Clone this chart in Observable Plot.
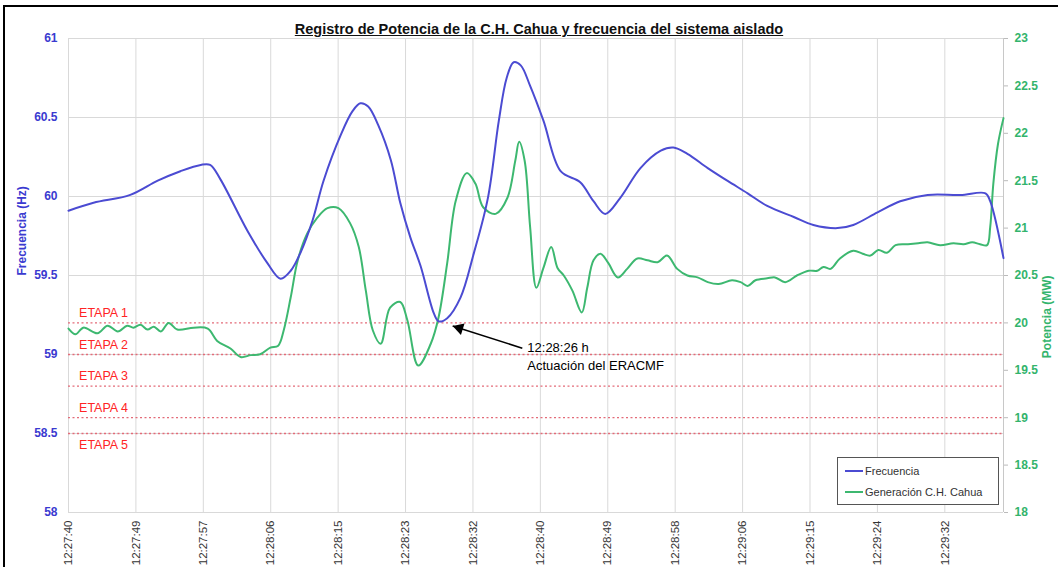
<!DOCTYPE html>
<html>
<head>
<meta charset="utf-8">
<script src="https://cdn.jsdelivr.net/npm/d3@7"></script>
<script src="https://cdn.jsdelivr.net/npm/@observablehq/plot@0.6"></script>
<style>
  body { margin: 0; background: #fff; font-family: "Liberation Sans", Arial, sans-serif; }
  #wrap { position: relative; width: 1058px; height: 567px; overflow: hidden; background: #fff; }
  #frame { position: absolute; left: 3px; top: 5px; width: 1100px; height: 620px; border-left: 2px solid #000; border-top: 2px solid #000; pointer-events: none; }
  #title { position: absolute; left: 539px; top: 21px; transform: translateX(-50%); font-size: 14.5px; font-weight: bold; text-decoration: underline; color: #111; white-space: nowrap; }
  #legend { position: absolute; left: 837px; top: 457px; width: 160px; height: 46px; border: 1px solid #555; background: #fff; font-size: 11px; color: #333; }
  .item { position: absolute; left: 7px; display: flex; align-items: center; }
  .sw { width: 18px; height: 1.5px; margin-right: 2px; }
</style>
</head>
<body>
<div id="wrap">
  <div id="chart"></div>
  <div id="title">Registro de Potencia de la C.H. Cahua y frecuencia del sistema aislado</div>
  <div id="legend">
    <div class="item" style="top:7px"><div class="sw" style="background:#4b4bd2"></div>Frecuencia</div>
    <div class="item" style="top:28px"><div class="sw" style="background:#3db870"></div>Generación C.H. Cahua</div>
  </div>
  <div id="frame"></div>
</div>
<script>
// X tick labels (evenly spaced category labels)
const tickLabels = ["12:27:40","12:27:49","12:27:57","12:28:06","12:28:15","12:28:23","12:28:32","12:28:40","12:28:49","12:28:58","12:29:06","12:29:15","12:29:24","12:29:32"];
const tickStep = 112 / 13; // seconds between category labels
const tickSec = tickLabels.map((_, i) => i * tickStep);

// Frecuencia (Hz): time in seconds since 12:27:40
const freqTime = [0.0,3.2,7.9,11.4,14.3,16.9,18.1,19.4,22.9,25.4,27.1,28.4,29.7,31.2,32.6,34.8,36.3,37.3,38.3,39.6,41.2,42.4,43.7,45.0,46.7,47.3,48.4,50.1,51.8,53.6,55.0,56.0,56.9,57.8,59.0,60.7,62.9,65.4,67.1,68.6,70.5,73.1,75.7,77.3,79.1,81.7,84.2,86.8,89.3,92.7,95.2,98.3,100.3,103.4,106.3,109.8,114.0,117.2,117.8,119.5];
const freqValue = [59.91,59.96,60.01,60.10,60.16,60.20,60.20,60.11,59.78,59.58,59.48,59.53,59.65,59.85,60.10,60.39,60.54,60.59,60.57,60.45,60.23,59.96,59.74,59.56,59.26,59.21,59.23,59.36,59.64,59.99,60.48,60.75,60.85,60.83,60.70,60.48,60.16,60.09,59.97,59.89,59.99,60.18,60.29,60.31,60.27,60.18,60.10,60.02,59.94,59.87,59.82,59.80,59.82,59.90,59.97,60.01,60.01,60.02,59.97,59.61];

// Generación C.H. Cahua (MW)
const powerTime = [0.0,0.9,1.9,3.7,5.0,6.3,7.5,8.3,9.2,10.1,10.9,11.8,12.8,13.9,16.0,17.8,19.0,20.7,22.0,23.3,24.5,25.8,26.8,27.5,28.4,29.3,30.5,31.8,33.1,34.5,36.0,37.1,38.0,38.9,39.9,41.1,42.4,43.3,44.7,46.3,47.3,48.4,49.5,50.9,52.0,53.0,54.6,56.1,57.1,57.6,58.3,59.0,59.8,60.7,61.7,62.5,63.3,64.4,65.6,66.3,67.1,68.0,69.0,70.2,71.4,72.7,74.0,75.3,76.5,77.8,79.1,80.4,81.7,83.1,84.8,85.9,86.8,87.8,89.3,90.3,91.6,93.1,94.6,95.7,96.5,97.4,98.6,100.3,101.5,102.5,103.5,104.6,105.7,107.2,108.6,109.8,111.4,113.1,114.4,115.5,116.5,117.4,117.8,118.2,118.8,119.5];
const powerValue = [19.94,19.88,19.95,19.89,19.97,19.91,19.97,19.95,19.98,19.93,19.96,19.91,20.00,19.93,19.95,19.94,19.81,19.73,19.64,19.66,19.67,19.74,19.76,19.92,20.27,20.66,20.94,21.11,21.21,21.21,21.05,20.80,20.34,19.92,19.78,20.16,20.22,20.03,19.55,19.78,20.06,20.63,21.29,21.58,21.47,21.22,21.15,21.32,21.71,21.91,21.71,21.01,20.37,20.58,20.80,20.58,20.50,20.34,20.11,20.37,20.66,20.73,20.63,20.48,20.57,20.68,20.66,20.64,20.71,20.57,20.50,20.48,20.43,20.41,20.45,20.43,20.39,20.45,20.47,20.48,20.43,20.50,20.55,20.55,20.59,20.57,20.68,20.76,20.73,20.71,20.77,20.74,20.82,20.83,20.84,20.85,20.82,20.84,20.83,20.85,20.83,20.82,21.01,21.47,21.89,22.16];

// ERACMF stage thresholds (Hz)
const etapaLabels = ["ETAPA 1","ETAPA 2","ETAPA 3","ETAPA 4","ETAPA 5"];
const etapaFreq = [59.2, 59.0, 58.8, 58.6, 58.5];

// Axis ticks
const freqTicks = [58, 58.5, 59, 59.5, 60, 60.5, 61];
const powerTicks = [18, 18.5, 19, 19.5, 20, 20.5, 21, 21.5, 22, 22.5, 23];

// Annotation
const noteTip = {t: 49.1, f: 59.18};
const noteTail = {t: 58.0, f: 59.04};
const noteText = "12:28:26 h\nActuación del ERACMF";

const BLUE = "#4b4bd2", GREEN = "#3db870", AXBLUE = "#3a3ad0", AXGREEN = "#33b46c";
const toF = p => 58 + (p - 18) * 0.6;   // power -> frequency scale
const toP = f => 18 + (f - 58) / 0.6;

const freq = freqTime.map((t, i) => ({t, v: freqValue[i]}));
const power = powerTime.map((t, i) => ({t, v: toF(powerValue[i])}));
const etapas = etapaLabels.map((label, i) => ({label, f: etapaFreq[i]}));
const labelMap = new Map(tickSec.map((s, i) => [s, tickLabels[i]]));
const xMax = 119.5;

const chart = Plot.plot({
  width: 1058, height: 567,
  marginLeft: 68, marginRight: 55, marginTop: 38, marginBottom: 55,
  style: {fontFamily: "'Liberation Sans', Arial, sans-serif", background: "transparent"},
  x: {domain: [0, xMax]},
  y: {domain: [58, 61]},
  marks: [
    Plot.gridX(tickSec, {stroke: "#d9d9d9", strokeOpacity: 1}),
    Plot.gridY(freqTicks, {stroke: "#d9d9d9", strokeOpacity: 1}),
    Plot.ruleX([xMax], {stroke: "#c8c8c8"}),
    Plot.ruleY(etapas, {y: "f", stroke: "#e36b78", strokeWidth: 1.3, strokeDasharray: "2,2.5"}),
    Plot.text(etapas.slice(0, 4), {y: "f", text: "label", frameAnchor: "left", textAnchor: "middle", dx: 35, dy: -10, fill: "#ff2424", fontSize: 12.5}),
    Plot.text(etapas.slice(4), {y: "f", text: "label", frameAnchor: "left", textAnchor: "middle", dx: 35, dy: 11, fill: "#ff2424", fontSize: 12.5}),
    Plot.line(power, {x: "t", y: "v", stroke: GREEN, strokeWidth: 2, curve: "catmull-rom"}),
    Plot.line(freq, {x: "t", y: "v", stroke: BLUE, strokeWidth: 2, curve: "catmull-rom"}),
    Plot.axisY(freqTicks, {anchor: "left", tickSize: 0, tickPadding: 11, fill: AXBLUE, fontWeight: "bold", fontSize: 12, label: null, tickFormat: d => String(d)}),
    Plot.axisY(powerTicks.map(toF), {anchor: "right", tickSize: 4, stroke: "#bbb", tickPadding: 7, fill: AXGREEN, fontWeight: "bold", fontSize: 12, label: null, tickFormat: f => String(+toP(f).toFixed(1))}),
    Plot.axisX(tickSec, {anchor: "bottom", tickSize: 0, tickPadding: 8, tickRotate: -90, fontSize: 11.5, fill: "#333", label: null, tickFormat: d => labelMap.get(d)}),
    Plot.text(["Frecuencia (Hz)"], {frameAnchor: "left", dx: -46, rotate: -90, fill: AXBLUE, fontWeight: "bold", fontSize: 12}),
    Plot.text(["Potencia (MW)"], {frameAnchor: "right", dx: 44, rotate: -90, fill: AXGREEN, fontWeight: "bold", fontSize: 12}),
    Plot.link([{}], {x1: () => noteTail.t, y1: () => noteTail.f, x2: () => noteTip.t, y2: () => noteTip.f, stroke: "#000", strokeWidth: 1.5}),
    Plot.dot([noteTip], {x: "t", y: "f", symbol: "triangle", r: 4.5, fill: "#000", stroke: "none", rotate: -72.8, dx: 6.7, dy: 2.1}),
    Plot.text([noteTail], {x: "t", y: "f", text: () => noteText, textAnchor: "start", lineAnchor: "top", dx: 5, dy: -9, fontSize: 13, lineHeight: 1.38, fill: "#000"})
  ]
});
document.getElementById("chart").appendChild(chart);
</script>
</body>
</html>
